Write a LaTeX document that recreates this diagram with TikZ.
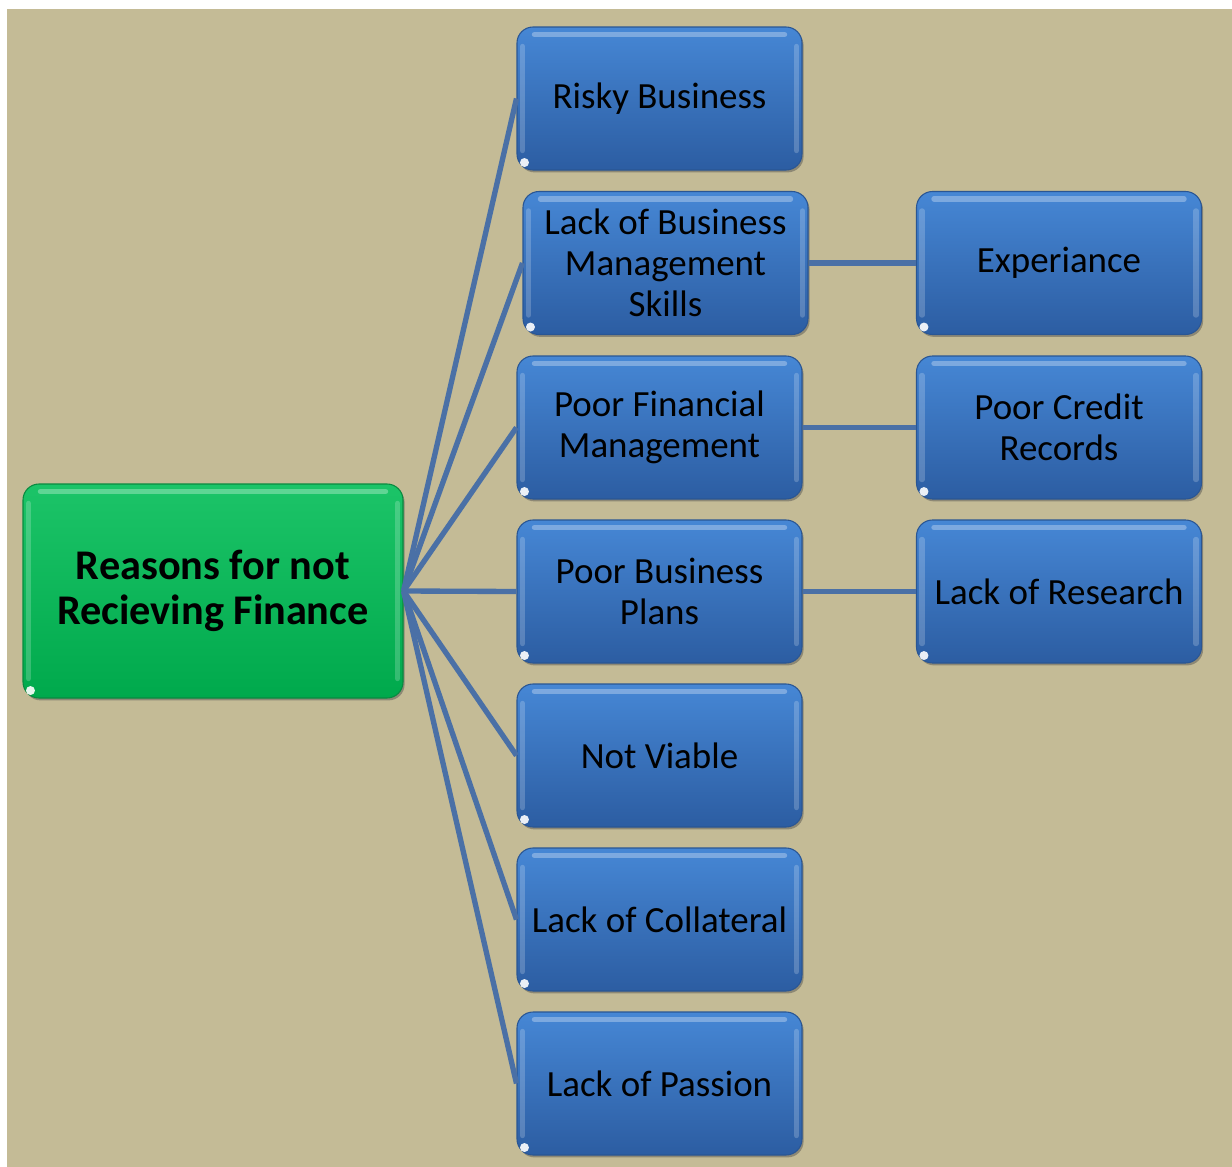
\documentclass[tikz,border=0pt]{standalone}
\usepackage{fontspec}
\setmainfont{Carlito}
\usetikzlibrary{shadows,calc}
\definecolor{tanbg}{HTML}{C4BB96}
\definecolor{boxtop}{HTML}{4687D5}
\definecolor{boxbot}{HTML}{2C5DA2}
\definecolor{boxedge}{HTML}{2A5694}
\definecolor{linkc}{HTML}{4A70A6}
\definecolor{greentop}{HTML}{1CC468}
\definecolor{greenbot}{HTML}{00A94C}
\definecolor{greenedge}{HTML}{0A8A40}
\begin{document}
\begin{tikzpicture}[x=0.75pt,y=-0.75pt,
  shinybox/.style={rectangle, rounded corners=12pt, inner sep=0pt, align=center,
    line width=0.8pt,
    drop shadow={shadow xshift=1.2pt, shadow yshift=-1.8pt, opacity=0.45, fill=black!70}},
  blubox/.style={shinybox, minimum width=213.75pt, minimum height=107.25pt,
    top color=boxtop, bottom color=boxbot, draw=boxedge,
    font=\fontsize{27.7}{30.8}\selectfont},
  rootbox/.style={shinybox, minimum width=285pt, minimum height=160.5pt,
    top color=greentop, bottom color=greenbot, draw=greenedge,
    font=\fontsize{31.7}{33.75}\selectfont\bfseries},
  link/.style={draw=linkc, line width=4pt},
  gloss/.style={draw=white, opacity=0.3, line width=4pt, line cap=round},
  cornerdot/.style={fill=white, opacity=0.9}
]
\useasboundingbox (0,0) rectangle (1232,1167);
\fill[white] (0,0) rectangle (1232,1167);
\fill[tanbg] (7,9) rectangle (1232,1167);

% root
\node[rootbox] (root) at (213,591) {Reasons for not\\Recieving Finance};

% first column
\node[blubox] (risky) at (659.5,98.5) {Risky Business};
\node[blubox] (skills) at (665.5,263) {Lack of Business\\Management\\Skills};
\node[blubox] (finmgmt) at (659.5,427.5) {Poor Financial\\Management};
\node[blubox] (plans) at (659.5,591.5) {Poor Business\\Plans};
\node[blubox] (viable) at (659.5,755.5) {Not Viable};
\node[blubox] (collat) at (659.5,919.5) {Lack of Collateral};
\node[blubox] (passion) at (659.5,1083.5) {Lack of Passion};

% second column
\node[blubox] (exper) at (1059,263) {Experiance};
\node[blubox] (credit) at (1059,427.5) {Poor Credit\\Records};
\node[blubox] (research) at (1059,591.5) {Lack of Research};

% gloss and corner marks
\foreach \n in {root,risky,skills,finmgmt,plans,viable,collat,passion,exper,credit,research}{
  \draw[gloss] ($(\n.north west)+(18,8)$) -- ($(\n.north east)+(-18,8)$);
  \draw[gloss, opacity=0.2] ($(\n.north west)+(6,20)$) -- ($(\n.south west)+(6,-20)$);
  \draw[gloss, opacity=0.2] ($(\n.north east)+(-6,20)$) -- ($(\n.south east)+(-6,-20)$);
  \fill[cornerdot] ($(\n.south west)+(8,-8)$) circle (4.5);
}

% connectors
\foreach \n in {risky,skills,finmgmt,plans,viable,collat,passion}{
  \draw[link] (root.east) -- (\n.west);
}
\draw[link] (skills.east) -- (exper.west);
\draw[link] (finmgmt.east) -- (credit.west);
\draw[link] (plans.east) -- (research.west);
\end{tikzpicture}
\end{document}
